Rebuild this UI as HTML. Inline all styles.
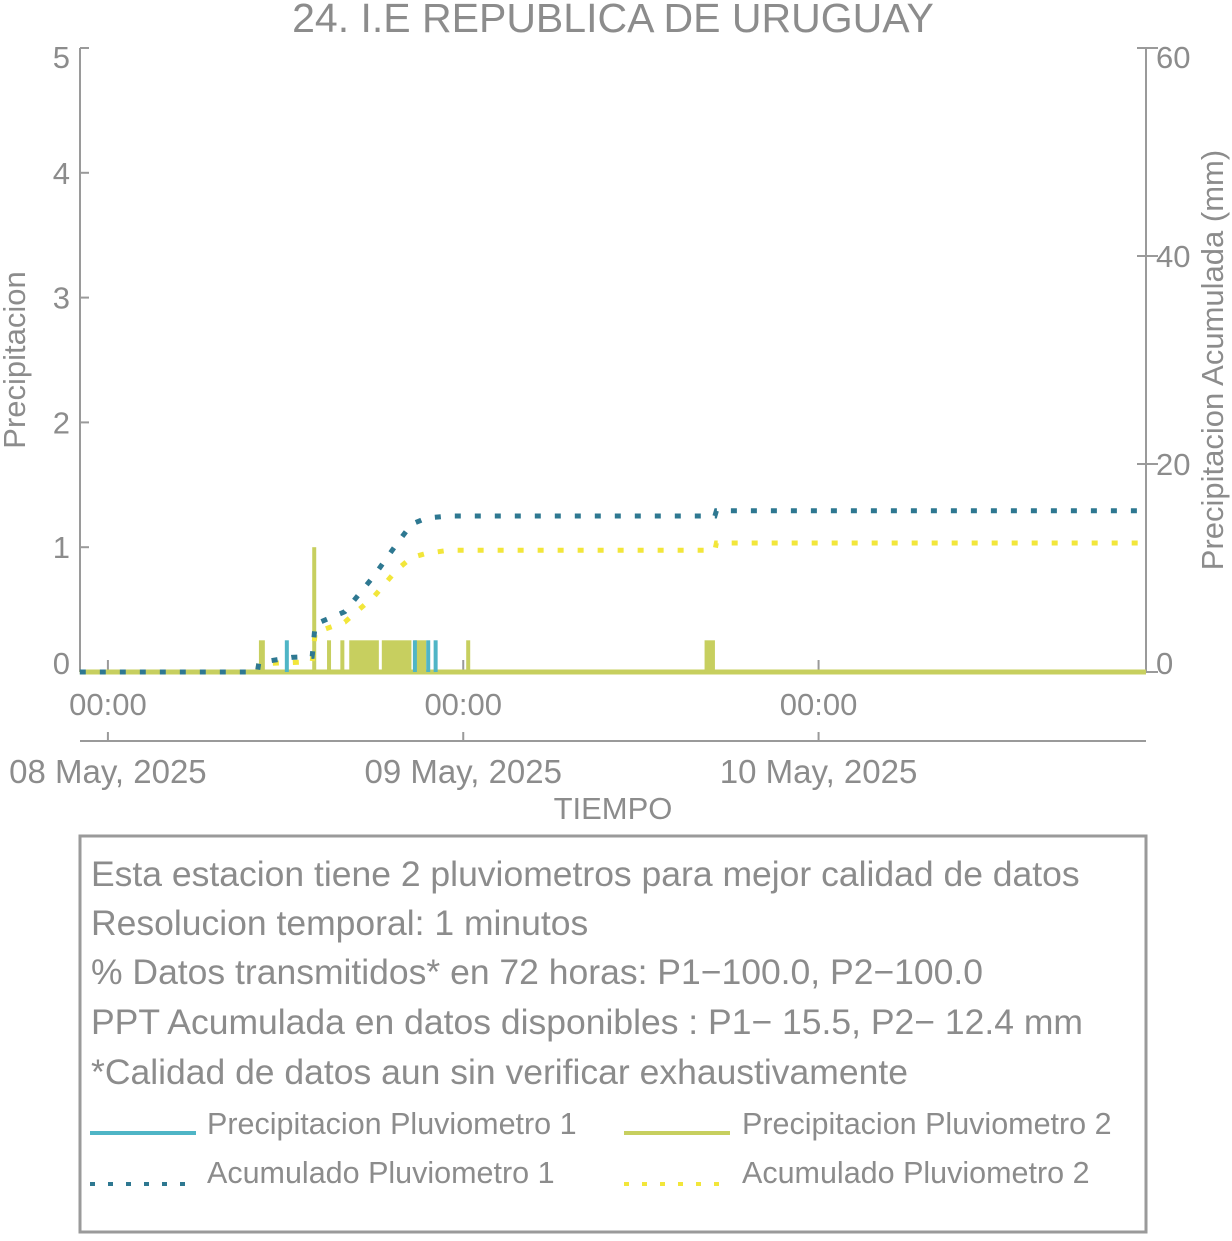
<!DOCTYPE html>
<html><head><meta charset="utf-8"><style>
body{margin:0;background:#fff;font-family:"Liberation Sans",sans-serif;}
svg text{font-family:"Liberation Sans",sans-serif;fill:#8c8c8c;}
</style></head><body>
<svg width="1232" height="1236">
<text x="613" y="32" font-size="41" text-anchor="middle">24. I.E REPUBLICA DE URUGUAY</text>
<g id="axes"></g>
<g id="marks"></g>
<rect x="80" y="836" width="1066" height="396" fill="none" stroke="#9a9a9a" stroke-width="3"/>
<g font-size="35.5">
<text x="91" y="886">Esta estacion tiene 2 pluviometros para mejor calidad de datos</text>
<text x="91" y="935">Resolucion temporal: 1 minutos</text>
<text x="91" y="984">% Datos transmitidos* en 72 horas: P1−100.0, P2−100.0</text>
<text x="91" y="1034">PPT Acumulada en datos disponibles : P1− 15.5, P2− 12.4 mm</text>
<text x="91" y="1084">*Calidad de datos aun sin verificar exhaustivamente</text>
</g>
<g font-size="30.5">
<line x1="90" y1="1133" x2="196" y2="1133" stroke="#4fb5c6" stroke-width="4"/>
<text x="207" y="1134">Precipitacion Pluviometro 1</text>
<line x1="624" y1="1133" x2="730" y2="1133" stroke="#c7cf5f" stroke-width="4"/>
<text x="742" y="1134">Precipitacion Pluviometro 2</text>
<line x1="90" y1="1184" x2="196" y2="1184" stroke="#2e7891" stroke-width="4" stroke-dasharray="5 13"/>
<text x="207" y="1183">Acumulado Pluviometro 1</text>
<line x1="624" y1="1184" x2="730" y2="1184" stroke="#f2e63a" stroke-width="4" stroke-dasharray="5 13"/>
<text x="742" y="1183">Acumulado Pluviometro 2</text>
</g>
</svg>
<script>
// hours since 08 May 00:00
const xTicks=[0,24,48];
const xTickLabels=["00:00","00:00","00:00"];
const dateLabels=["08 May, 2025","09 May, 2025","10 May, 2025"];
const leftTicks=[0,1,2,3,4,5];
const rightTicks=[0,20,40,60];
// bars: [start hour, end hour, value mm]
const p1Bars=[[11.95,12.15,0.254],[20.6,20.75,0.254],[21.5,21.65,0.254],[22.0,22.25,0.254]];
const p2Bars=[[10.2,10.6,0.254],[13.8,14.05,1.0],[14.8,15.0,0.254],[15.7,15.9,0.254],[16.3,18.3,0.254],[18.5,20.5,0.254],[20.7,21.5,0.254],[24.2,24.4,0.254] ,[40.3,41.0,0.254]];
const acc1T=[-1.9,10.1,10.2,12.4,13.8,14.0,16.0,18.0,19.5,20.5,21.5,23.0,41.0,41.1,70.1];
const acc1V=[0,0,0.9,1.4,1.5,4.6,5.8,9.3,12.3,14.2,14.8,15.0,15.0,15.5,15.5];
const acc2T=[-1.9,10.1,10.2,12.4,13.8,14.0,16.0,18.0,19.5,20.5,21.5,23.0,41.0,41.1,70.1];
const acc2V=[0,0,0.8,0.9,1.0,3.8,4.8,7.3,9.8,11.0,11.4,11.7,11.7,12.4,12.4];

const NS="http://www.w3.org/2000/svg";
const X0=80,X1=1146,TMIN=-1.885,TMAX=70.115,Y0=672,YT=48;
const xs=t=>X0+(t-TMIN)/(TMAX-TMIN)*(X1-X0);
const yl=v=>Y0-v/5*(Y0-YT);
const yr=v=>Y0-v/60*(Y0-YT);
const labAdj=(y)=>Math.min(Math.max(y,57),663);
function mk(tag,attrs,parent,txt){const e=document.createElementNS(NS,tag);for(const k in attrs)e.setAttribute(k,attrs[k]);if(txt!==undefined)e.textContent=txt;parent.appendChild(e);return e;}
const ax=document.getElementById('axes'),mg=document.getElementById('marks');
const G="#9a9a9a";
let e;
e=mk('line',{x1:X0,y1:YT,x2:X0,y2:Y0,stroke:G,'stroke-width':2},ax);


e=mk('line',{x1:X1,y1:YT,x2:X1,y2:Y0,stroke:G,'stroke-width':2},ax);


e=mk('line',{x1:X0,y1:741,x2:X1,y2:741,stroke:G,'stroke-width':2},ax);


leftTicks.forEach(v=>{const y=yl(v);mk('line',{x1:X0,y1:y,x2:X0+9,y2:y,stroke:G,'stroke-width':2},ax);
e=mk('text',{x:70,y:labAdj(y)+11,'font-size':31,'text-anchor':'end'},ax,String(v));

});
rightTicks.forEach(v=>{const y=yr(v);mk('line',{x1:X1-9,y1:y,x2:X1+12,y2:y,stroke:G,'stroke-width':2},ax);
e=mk('text',{x:1156,y:labAdj(y)+11,'font-size':31},ax,String(v));

});
xTicks.forEach((t,i)=>{const x=xs(t);mk('line',{x1:x,y1:Y0,x2:x,y2:Y0-12,stroke:G,'stroke-width':2},ax);
mk('line',{x1:x,y1:741,x2:x,y2:732,stroke:G,'stroke-width':2},ax);
e=mk('text',{x:x,y:715,'font-size':31,'text-anchor':'middle'},ax,xTickLabels[i]);


e=mk('text',{x:x,y:783,'font-size':33,'text-anchor':'middle'},ax,dateLabels[i]);

});
e=mk('text',{x:613,y:819,'font-size':31,'text-anchor':'middle'},ax,'TIEMPO');


e=mk('text',{x:25,y:360,'font-size':31,'text-anchor':'middle',transform:'rotate(-90 25 360)'},ax,'Precipitacion');


e=mk('text',{x:1223,y:360,'font-size':31,'text-anchor':'middle',transform:'rotate(-90 1223 360)'},ax,'Precipitacion Acumulada (mm)');


// baselines
mk('line',{x1:X0,y1:Y0,x2:X1,y2:Y0,stroke:"#c7cf5f",'stroke-width':5},mg);
function bars(arr,col,name){arr.forEach(b=>{const x=xs(b[0]),w=Math.max(xs(b[1])-x,4),y=yl(b[2]);
e=mk('rect',{x:x,y:y,width:w,height:Y0-y,fill:col},mg);

});}
bars(p2Bars,"#c7cf5f","bar-p2");
bars(p1Bars,"#4fb5c6","bar-p1");
function acc(T,V,col,name){const d=T.map((t,i)=>(i?'L':'M')+xs(t).toFixed(1)+','+yr(V[i]).toFixed(1)).join('');
e=mk('path',{d:d,fill:'none',stroke:col,'stroke-width':5,'stroke-dasharray':'6 14'},mg);

}
acc(acc2T,acc2V,"#f2e63a","accumulated-p2-line");
acc(acc1T,acc1V,"#2e7891","accumulated-p1-line");
</script>
</body></html>
